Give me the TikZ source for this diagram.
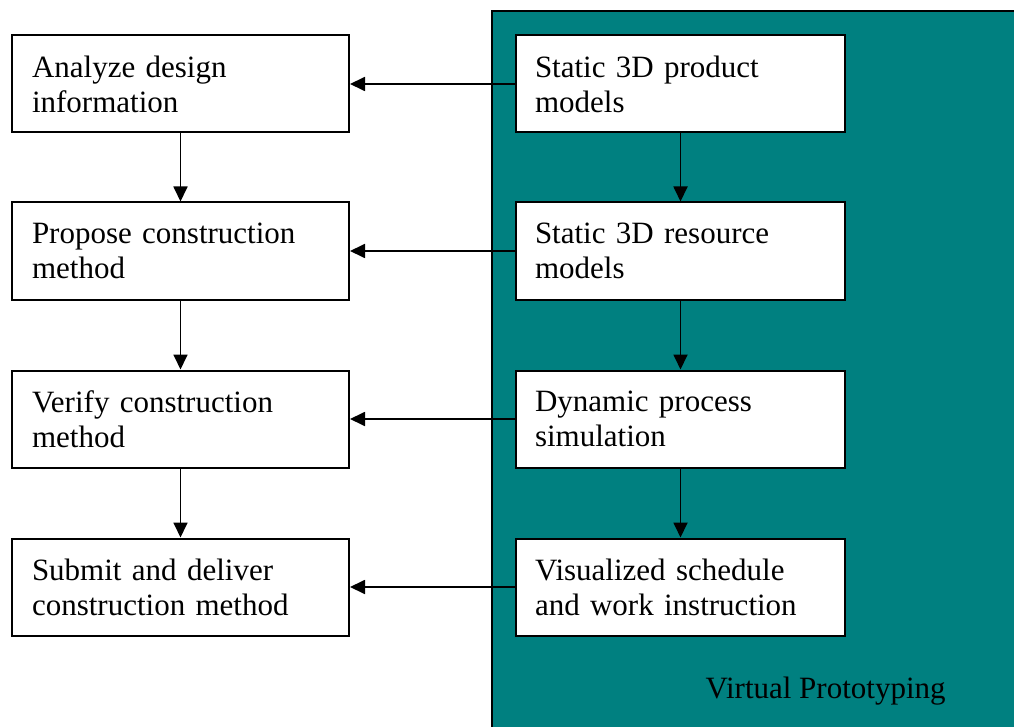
\documentclass[tikz,border=0pt]{standalone}
\usepackage{fontspec}
\setmainfont{Liberation Serif}
\usetikzlibrary{arrows.meta}
\definecolor{vpteal}{RGB}{0,128,128}
\tikzset{
  stepbox/.style={draw=black, line width=2pt, fill=white, rectangle,
    minimum width=337pt, minimum height=97pt, text width=297pt,
    inner xsep=20pt, align=left,
    font=\fontsize{31}{35}\selectfont},
  vpbox/.style={stepbox, minimum width=329pt, text width=291pt, inner xsep=19pt},
  flow/.style={line width=1.8pt, -{Triangle[length=15pt,width=14pt]}}
}
\begin{document}
\begin{tikzpicture}[x=1pt, y=-1pt]
\useasboundingbox (0,0) rectangle (1014,727);
% Virtual prototyping panel
\draw[line width=2.5pt, fill=vpteal] (492,11) rectangle (1020,735);
\node[anchor=base west, font=\fontsize{31}{35}\selectfont] (vplabel) at (702,698) {Virtual Prototyping};
% Construction method steps
\node[stepbox] (a1) at (180.5,84) {Analyze design\\information};
\node[stepbox] (a2) at (180.5,251) {Propose construction\\method};
\node[stepbox] (a3) at (180.5,419) {Verify construction\\method};
\node[stepbox] (a4) at (180.5,587) {Submit and deliver\\construction method};
% Virtual prototyping steps
\node[vpbox] (b1) at (680.5,84) {Static 3D product\\models};
\node[vpbox] (b2) at (680.5,251) {Static 3D resource\\models};
\node[vpbox] (b3) at (680.5,419) {Dynamic process\\simulation};
\node[vpbox] (b4) at (680.5,587) {Visualized schedule\\and work instruction};
% Connectors
\draw[flow] (a1) -- (a2);
\draw[flow] (a2) -- (a3);
\draw[flow] (a3) -- (a4);
\draw[flow] (b1) -- (b2);
\draw[flow] (b2) -- (b3);
\draw[flow] (b3) -- (b4);
\draw[flow] (b1) -- (a1);
\draw[flow] (b2) -- (a2);
\draw[flow] (b3) -- (a3);
\draw[flow] (b4) -- (a4);
\end{tikzpicture}
\end{document}
